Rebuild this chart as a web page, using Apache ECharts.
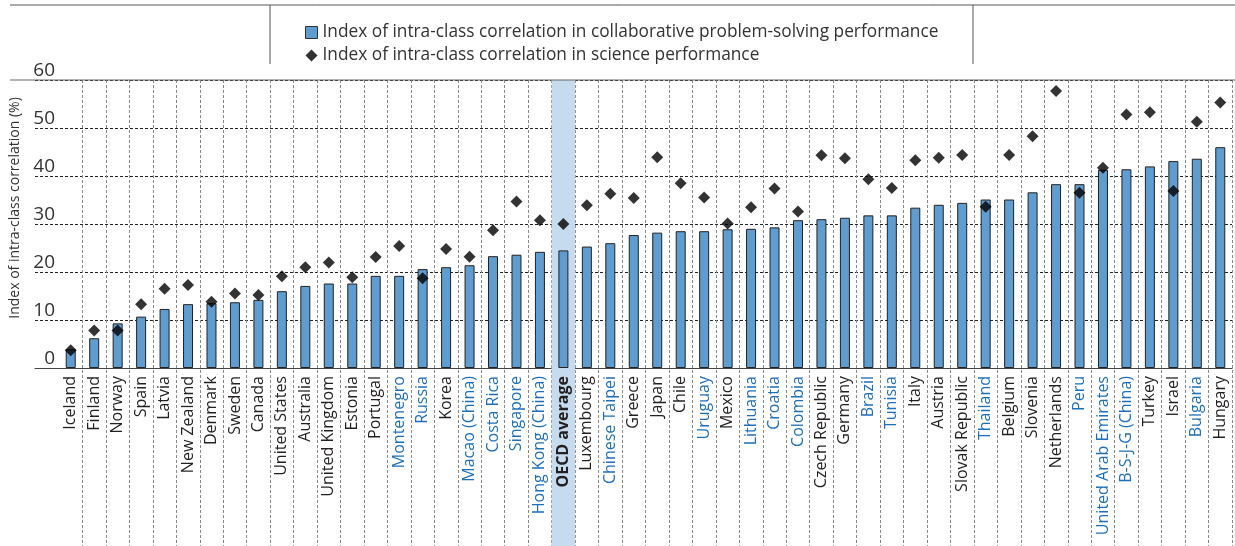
<!DOCTYPE html>
<html>
<head>
<meta charset="utf-8">
<script src="https://cdn.jsdelivr.net/npm/echarts@6/dist/echarts.min.js"></script>
<style>
  html, body { margin: 0; padding: 0; background: #fff; }
  #chart { width: 1235px; height: 546px; }
</style>
</head>
<body>
<div id="chart"></div>
<script>
// countries, sorted by collaborative problem-solving ICC
const countries = [
  'Iceland', 'Finland', 'Norway', 'Spain', 'Latvia', 'New Zealand', 'Denmark', 'Sweden', 'Canada',
  'United States', 'Australia', 'United Kingdom', 'Estonia', 'Portugal', 'Montenegro', 'Russia',
  'Korea', 'Macao (China)', 'Costa Rica', 'Singapore', 'Hong Kong (China)', 'OECD average',
  'Luxembourg', 'Chinese Taipei', 'Greece', 'Japan', 'Chile', 'Uruguay', 'Mexico', 'Lithuania',
  'Croatia', 'Colombia', 'Czech Republic', 'Germany', 'Brazil', 'Tunisia', 'Italy', 'Austria',
  'Slovak Republic', 'Thailand', 'Belgium', 'Slovenia', 'Netherlands', 'Peru',
  'United Arab Emirates', 'B-S-J-G (China)', 'Turkey', 'Israel', 'Bulgaria', 'Hungary'
]
// partner economies, labelled in blue
const partners = [
  'Montenegro', 'Russia', 'Macao (China)', 'Costa Rica', 'Singapore', 'Hong Kong (China)',
  'Chinese Taipei', 'Uruguay', 'Lithuania', 'Croatia', 'Colombia', 'Brazil', 'Tunisia',
  'Thailand', 'Peru', 'United Arab Emirates', 'B-S-J-G (China)', 'Bulgaria'
]
const cpsIcc = [
  3.9, 6.2, 9.3, 10.7, 12.3, 13.3, 13.5, 13.7, 14.2,
  16.0, 17.1, 17.6, 17.6, 19.2, 19.2, 20.6,
  21.0, 21.4, 23.3, 23.6, 24.2, 24.5,
  25.3, 26.0, 27.7, 28.2, 28.5, 28.5, 28.9, 29.0,
  29.3, 30.8, 31.0, 31.3, 31.8, 31.8, 33.4, 34.0,
  34.4, 35.1, 35.1, 36.6, 38.3, 38.3,
  41.3, 41.4, 42.0, 43.1, 43.6, 46.0
]
const scienceIcc = [
  3.7, 7.8, 7.8, 13.3, 16.5, 17.3, 13.8, 15.5, 15.2,
  19.1, 21.0, 22.0, 18.9, 23.1, 25.4, 18.7,
  24.8, 23.2, 28.7, 34.7, 30.8, 30.0,
  33.9, 36.3, 35.4, 43.9, 38.5, 35.5, 30.1, 33.5,
  37.4, 32.6, 44.3, 43.7, 39.3, 37.5, 43.3, 43.8,
  44.4, 33.6, 44.4, 48.3, 57.7, 36.5,
  41.7, 52.8, 53.3, 36.9, 51.3, 55.3
]
const yTicks = [0, 10, 20, 30, 40, 50, 60]
const highlight = 'OECD average'

const FONT = '"Open Sans", sans-serif'
const cpsName = 'Index of intra-class correlation in collaborative problem-solving performance'
const sciName = 'Index of intra-class correlation in science performance'

const chart = echarts.init(document.getElementById('chart'))

chart.setOption({
  animation: false,
  backgroundColor: '#fff',
  textStyle: { fontFamily: FONT },
  legend: {
    data: [
      { name: cpsName, icon: 'rect', itemStyle: { color: '#5f9ccf', borderColor: '#333', borderWidth: 1 } },
      { name: sciName, icon: 'diamond', itemStyle: { color: '#000' } }
    ],
    orient: 'vertical',
    left: 300,
    top: 19,
    itemWidth: 12,
    itemHeight: 12,
    itemGap: 6,
    textStyle: { fontFamily: FONT, fontSize: 17.3, color: '#333' }
  },
  grid: [
    // horizontal gridlines and y labels
    { left: 30, right: 3, top: 80, bottom: 178 },
    // vertical separators running down through the label area
    { left: 59, right: 3, top: 80, bottom: 0 },
    // bars and diamonds
    { left: 59, right: 3, top: 80, bottom: 178 }
  ],
  xAxis: [
    {
      gridIndex: 0, type: 'value', min: 0, max: 1,
      axisLine: { show: true, onZero: false, lineStyle: { color: '#444', width: 1.2 } },
      axisTick: { show: false }, axisLabel: { show: false }, splitLine: { show: false }
    },
    {
      gridIndex: 1, type: 'category', data: countries,
      axisLine: { show: false }, axisTick: { show: false }, axisLabel: { show: false },
      splitLine: {
        show: true,
        interval: (i) => i > 0,
        lineStyle: { color: '#888', type: [3, 2], width: 1 }
      }
    },
    {
      gridIndex: 2, type: 'category', data: countries,
      axisLine: { show: false }, axisTick: { show: false },
      axisLabel: {
        interval: 0,
        rotate: 90,
        margin: 8,
        fontFamily: FONT,
        fontSize: 16,
        color: '#231f20',
        formatter: (v) => {
          if (v === highlight) return '{b|' + v + '}'
          if (partners.includes(v)) return '{p|' + v + '}'
          return v
        },
        rich: {
          b: { fontFamily: FONT, fontSize: 16, fontWeight: 'bold', color: '#231f20' },
          p: { fontFamily: FONT, fontSize: 16, color: '#1f6fb8' }
        }
      }
    }
  ],
  yAxis: [
    {
      gridIndex: 0, type: 'value', min: yTicks[0], max: yTicks[yTicks.length - 1], interval: 10,
      name: 'Index of intra-class correlation (%)',
      nameLocation: 'middle',
      nameRotate: 90,
      nameGap: 13,
      nameTextStyle: { fontFamily: FONT, fontSize: 14, color: '#333', padding: [0, 0, 0, 32] },
      axisLine: { show: false }, axisTick: { show: false },
      axisLabel: {
        inside: true,
        align: 'right',
        margin: 20,
        verticalAlign: 'bottom',
        fontFamily: FONT,
        fontSize: 19,
        color: '#333'
      },
      splitLine: { show: true, lineStyle: { color: '#222', type: [3, 2], width: 1 } }
    },
    { gridIndex: 1, type: 'value', min: 0, max: 1, show: false },
    { gridIndex: 2, type: 'value', min: 0, max: 60, show: false }
  ],
  series: [
    {
      name: 'band',
      type: 'bar',
      xAxisIndex: 1, yAxisIndex: 1,
      barWidth: '100%',
      silent: true,
      z: 0,
      itemStyle: { color: '#c6dcee' },
      data: countries.map((c) => (c === highlight ? 1 : null))
    },
    {
      name: cpsName,
      type: 'bar',
      xAxisIndex: 2, yAxisIndex: 2,
      barWidth: 10,
      itemStyle: { color: '#5f9ccf', borderColor: '#222', borderWidth: 1 },
      data: cpsIcc
    },
    {
      name: sciName,
      type: 'scatter',
      xAxisIndex: 2, yAxisIndex: 2,
      symbol: 'diamond',
      symbolSize: 12,
      itemStyle: { color: '#000' },
      z: 5,
      data: scienceIcc.map((v, i) => [countries[i], v])
    }
  ],
  graphic: [
    // frame lines of the header and top of plot
    { type: 'line', shape: { x1: 10, y1: 5, x2: 1235, y2: 5 }, style: { stroke: '#555', lineWidth: 1 } },
    { type: 'line', shape: { x1: 270, y1: 5, x2: 270, y2: 64 }, style: { stroke: '#555', lineWidth: 1 } },
    { type: 'line', shape: { x1: 973, y1: 5, x2: 973, y2: 64 }, style: { stroke: '#555', lineWidth: 1 } },
    { type: 'line', shape: { x1: 10, y1: 80, x2: 1235, y2: 80 }, style: { stroke: '#666', lineWidth: 1 }, z: 10 }
  ]
})

window.addEventListener('resize', () => chart.resize())
</script>
</body>
</html>
